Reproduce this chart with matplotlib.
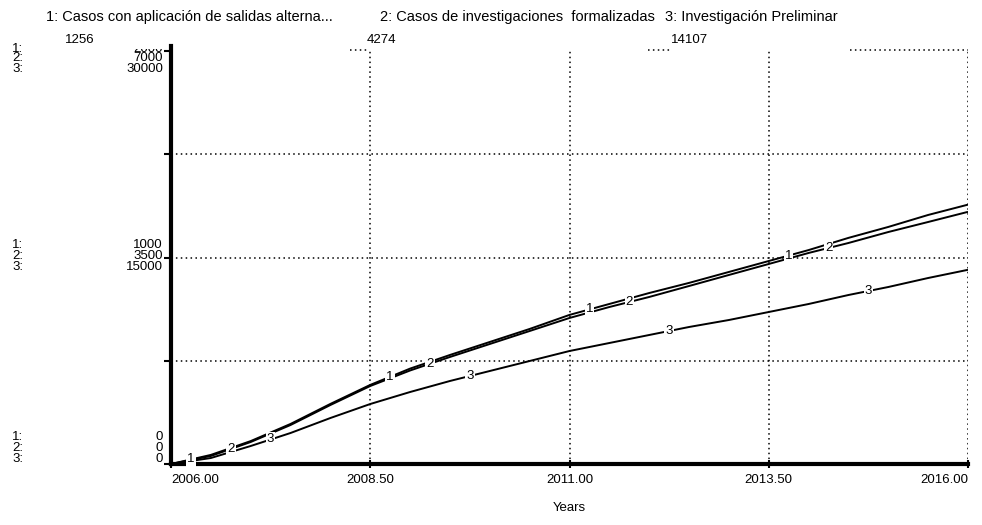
import numpy as np
import matplotlib.pyplot as plt
from matplotlib.transforms import Bbox, TransformedBbox

plt.rcParams['font.family'] = ['Liberation Sans', 'DejaVu Sans']

# time axis (years) and the three stocks
years = [2006.0, 2006.5, 2007.0, 2007.5, 2008.0, 2008.5, 2009.0, 2009.5, 2010.0, 2010.5,
         2011.0, 2011.5, 2012.0, 2012.5, 2013.0, 2013.5, 2014.0, 2014.5, 2015.0, 2015.5, 2016.0]
salidas = [0, 44, 111, 194, 291, 383, 462, 528, 591, 654,
           722, 775, 828, 877, 930, 983, 1036, 1095, 1148, 1206, 1256]
formalizadas = [0, 136, 373, 661, 1000, 1322, 1585, 1814, 2034, 2254,
                2475, 2661, 2831, 3017, 3204, 3390, 3577, 3746, 3932, 4102, 4274]
preliminar = [0, 436, 1308, 2252, 3341, 4358, 5230, 6030, 6756, 7482,
              8208, 8789, 9371, 9952, 10460, 11041, 11622, 12276, 12857, 13511, 14107]

series_names = ["Casos con aplicación de salidas alterna...",
                "Casos de investigaciones  formalizadas",
                "Investigación Preliminar"]
scale_max = [2000, 7000, 30000]
xticks = [2006.0, 2008.5, 2011.0, 2013.5, 2016.0]

# where the little "1", "2", "3" markers sit on each curve
label_x = [[2006.25, 2008.75, 2011.25, 2013.75],
           [2006.75, 2009.25, 2011.75, 2014.25],
           [2007.25, 2009.75, 2012.25, 2014.75]]

W, H = 982, 525
fig = plt.figure(figsize=(W / 100, H / 100), dpi=100)
ax1 = fig.add_axes([171 / W, 1 - 464 / H, 797 / W, 413 / H])
ax2 = ax1.twinx()
ax3 = ax1.twinx()
axes = [ax1, ax2, ax3]
data = [salidas, formalizadas, preliminar]

for a, vals, top in zip(axes, data, scale_max):
    a.plot(years, vals, color='black', lw=1.4, solid_capstyle='butt')
    a.set_ylim(0, top)
    a.set_xlim(2006, 2016)
    for s in a.spines.values():
        s.set_visible(False)
    a.tick_params(left=False, right=False, labelleft=False, labelright=False)

# grid (dotted) and axes frame
dot = (0, (1, 2.2))
for xv in xticks[1:]:
    ax1.axvline(xv, color='black', lw=1.1, linestyle=dot, zorder=0)
for fr in [0.25, 0.5, 0.75]:
    ax1.axhline(fr * scale_max[0], color='black', lw=1.1, linestyle=dot, zorder=0)
# top edge is only partly visible
xt = ax1.get_xaxis_transform()
for x0, x1 in [(2008.25, 2008.47), (2011.98, 2012.29), (2014.52, 2016.0)]:
    ax1.plot([x0, x1], [1.003, 1.003], transform=xt, color='black', lw=1.1,
             linestyle=dot, clip_on=False)

ax1.spines['left'].set_visible(True)
ax1.spines['left'].set_linewidth(3)
ax1.spines['left'].set_bounds(0, 2025)
ax1.spines['bottom'].set_visible(True)
ax1.spines['bottom'].set_linewidth(3)
ax1.set_yticks([fr * scale_max[0] for fr in [0, 0.25, 0.5, 0.75, 1]])
ax1.tick_params(axis='y', left=True, length=5, width=1.5, labelleft=False)
ax1.set_xticks(xticks)
ax1.set_xticklabels([f"{v:.2f}" for v in xticks], fontsize=9.5)
ax1.tick_params(axis='x', length=6, width=1.5, pad=4, direction='inout')
tl = ax1.get_xticklabels()
tl[0].set_ha('left')
tl[-1].set_ha('right')
ax1.set_xlabel("Years", fontsize=9.5, labelpad=12)

# curve number markers, all placed on the last axes so their boxes cover every curve
for i, (a, vals) in enumerate(zip(axes, data)):
    for xv in label_x[i]:
        ax3.text(xv, np.interp(xv, years, vals), str(i + 1), transform=a.transData,
                 ha='center', va='center', fontsize=9.5, zorder=5,
                 bbox=dict(boxstyle='square,pad=0.08', fc='white', ec='none'))

# header legend
fig.text(46 / W, 1 - 17 / H, "1: " + series_names[0], fontsize=10.5, va='center')
fig.text(380 / W, 1 - 17 / H, "2: " + series_names[1], fontsize=10.5, va='center')
fig.text(665 / W, 1 - 17 / H, "3: " + series_names[2], fontsize=10.5, va='center')

# final values above the plot
for xp, vals in zip([65, 367, 671], data):
    fig.text(xp / W, 1 - 40 / H, f"{vals[-1]:.0f}", fontsize=9.5, va='center')

# left scale blocks (one row per series)
def scale_block(frac, y_rows):
    for i, yr in enumerate(y_rows):
        fig.text(12 / W, 1 - yr / H, f"{i + 1}:", fontsize=9.5, va='center')
        t = fig.text(163 / W, 1 - yr / H, f"{frac * scale_max[i]:.0f}", fontsize=9.5,
                     va='center', ha='right')
        if frac == 1 and i == 0:
            # top value of scale 1 is half hidden under the header row
            t.set_clip_on(True)
            t.set_clip_box(TransformedBbox(Bbox.from_extents(0, 0, 1, 1 - 49 / H),
                                           fig.transFigure))

scale_block(1, [49, 58, 69])
scale_block(0.5, [245, 256, 267])
scale_block(0, [437, 448, 459])

fig.savefig("out.png", dpi=100)
